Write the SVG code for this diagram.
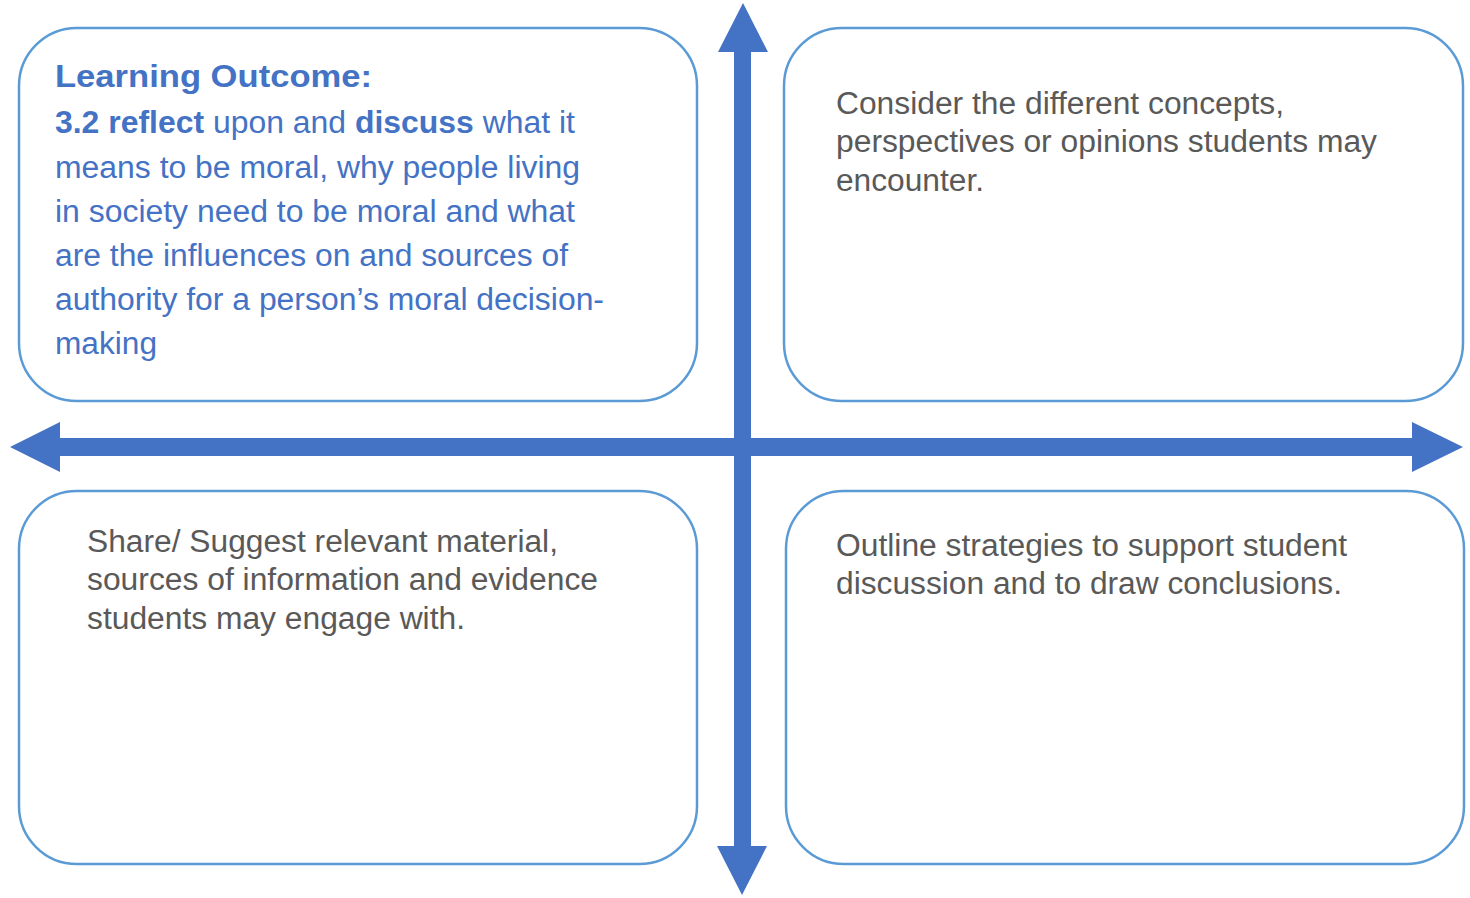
<svg xmlns="http://www.w3.org/2000/svg" width="1470" height="898" viewBox="0 0 1470 898">
<style>
.box{fill:#fff;stroke:#5B9BD5;stroke-width:2.5}
.blue{font-family:"Liberation Sans",Arial,sans-serif;font-size:31px;fill:#4472C4}
.grey{font-family:"Liberation Sans",Arial,sans-serif;font-size:31px;fill:#595959}
.b{font-weight:bold}
.arrow{fill:#4472C4}
</style>
<rect width="1470" height="898" fill="#fff"/>
<g id="node-learning-outcome">
<rect class="box" x="19" y="28" width="678" height="373" rx="58"/>
<text class="blue b" x="55" y="87" textLength="317" lengthAdjust="spacingAndGlyphs">Learning Outcome:</text>
<text class="blue" x="55" y="133" textLength="520" lengthAdjust="spacingAndGlyphs"><tspan class="b">3.2 reflect</tspan> upon and <tspan class="b">discuss</tspan> what it</text>
<text class="blue" x="55" y="178" textLength="525" lengthAdjust="spacingAndGlyphs">means to be moral, why people living</text>
<text class="blue" x="55" y="222" textLength="520" lengthAdjust="spacingAndGlyphs">in society need to be moral and what</text>
<text class="blue" x="55" y="266" textLength="513" lengthAdjust="spacingAndGlyphs">are the influences on and sources of</text>
<text class="blue" x="55" y="310" textLength="549" lengthAdjust="spacingAndGlyphs">authority for a person’s moral decision-</text>
<text class="blue" x="55" y="354" textLength="102" lengthAdjust="spacingAndGlyphs">making</text>
</g>
<g id="node-concepts">
<rect class="box" x="784" y="28" width="679" height="373" rx="58"/>
<text class="grey" x="836" y="114" textLength="448" lengthAdjust="spacingAndGlyphs">Consider the different concepts,</text>
<text class="grey" x="836" y="152" textLength="541" lengthAdjust="spacingAndGlyphs">perspectives or opinions students may</text>
<text class="grey" x="836" y="191" textLength="148" lengthAdjust="spacingAndGlyphs">encounter.</text>
</g>
<g id="node-material">
<rect class="box" x="19" y="491" width="678" height="373" rx="58"/>
<text class="grey" x="87" y="552" textLength="471" lengthAdjust="spacingAndGlyphs">Share/ Suggest relevant material,</text>
<text class="grey" x="87" y="590" textLength="511" lengthAdjust="spacingAndGlyphs">sources of information and evidence</text>
<text class="grey" x="87" y="629" textLength="378" lengthAdjust="spacingAndGlyphs">students may engage with.</text>
</g>
<g id="node-strategies">
<rect class="box" x="786" y="491" width="678" height="373" rx="58"/>
<text class="grey" x="836" y="556" textLength="511" lengthAdjust="spacingAndGlyphs">Outline strategies to support student</text>
<text class="grey" x="836" y="594" textLength="506" lengthAdjust="spacingAndGlyphs">discussion and to draw conclusions.</text>
</g>
<g id="connectors">
<polygon class="arrow" points="743,3 768,52 751,52 751,846 767,846 742,895 717,846 734,846 734,52 718,52"/>
<polygon class="arrow" points="10,447 60,422 60,438 1412,438 1412,422 1463,447 1412,472 1412,456 60,456 60,472"/>
</g>
</svg>
